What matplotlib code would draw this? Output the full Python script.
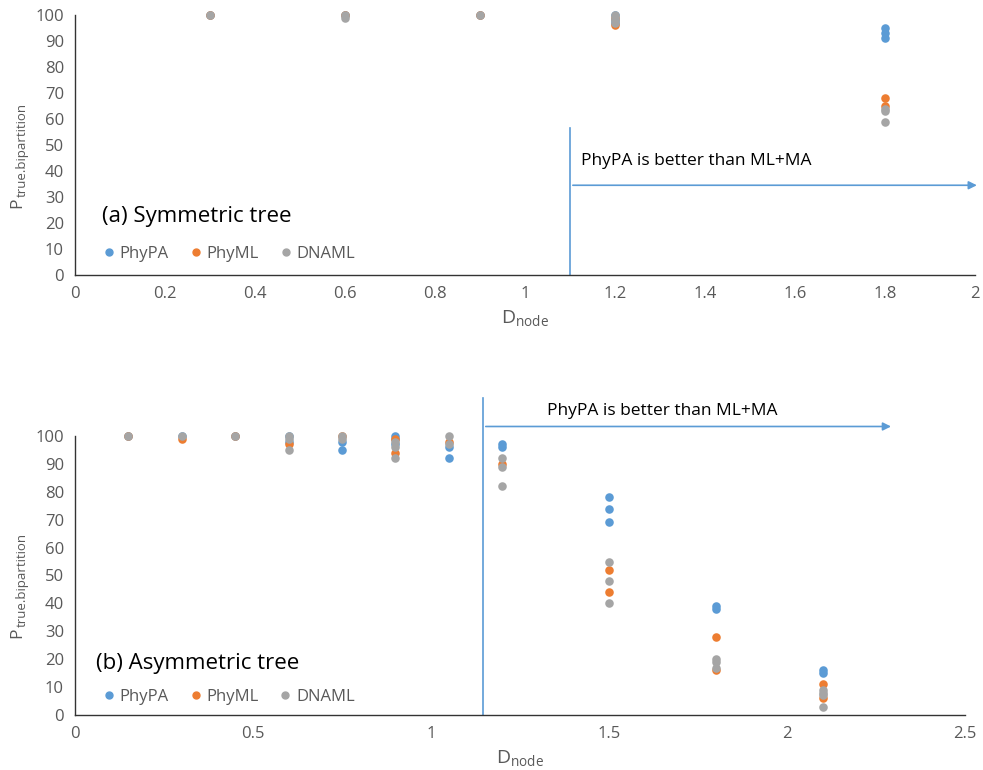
import matplotlib.pyplot as plt
from matplotlib.lines import Line2D

plt.rcParams['font.family'] = ['Open Sans', 'DejaVu Sans']

BLUE = "#5B9BD5"
ORANGE = "#ED7D31"
GRAY = "#A5A5A5"
TXT = "#595959"

# (a) symmetric tree
a_phypa_x = [0.3, 0.6, 0.9, 1.2, 1.2, 1.2, 1.8, 1.8, 1.8]
a_phypa_y = [100, 100, 100, 100, 98, 97, 95, 93, 91]
a_phyml_x = [0.3, 0.6, 0.9, 1.2, 1.2, 1.8, 1.8]
a_phyml_y = [100, 100, 100, 99, 96, 68, 65]
a_dnaml_x = [0.3, 0.6, 0.6, 0.9, 1.2, 1.2, 1.2, 1.2, 1.8, 1.8, 1.8]
a_dnaml_y = [100, 100, 99, 100, 100, 99, 98, 97, 64, 63, 59]

# (b) asymmetric tree
b_phypa_x = [0.15, 0.3, 0.45, 0.6, 0.6, 0.75, 0.75, 0.9, 0.9, 0.9, 1.05, 1.05,
             1.2, 1.2, 1.5, 1.5, 1.5, 1.8, 1.8, 2.1, 2.1]
b_phypa_y = [100, 100, 100, 100, 98, 98, 95, 100, 99, 97, 96, 92,
             97, 96, 78, 74, 69, 39, 38, 16, 15]
b_phyml_x = [0.15, 0.3, 0.45, 0.6, 0.75, 0.9, 0.9, 1.05, 1.2, 1.5, 1.5, 1.8, 1.8, 2.1, 2.1]
b_phyml_y = [100, 99, 100, 97, 100, 99, 94, 98, 90, 52, 44, 28, 16, 11, 6]
b_dnaml_x = [0.15, 0.3, 0.45, 0.6, 0.6, 0.6, 0.75, 0.75, 0.9, 0.9, 0.9, 1.05, 1.05,
             1.2, 1.2, 1.2, 1.5, 1.5, 1.5, 1.8, 1.8, 1.8, 2.1, 2.1, 2.1, 2.1]
b_dnaml_y = [100, 100, 100, 100, 99, 95, 100, 99, 98, 96, 92, 100, 97,
             92, 89, 82, 55, 48, 40, 20, 19, 17, 9, 8, 7, 3]

fig = plt.figure(figsize=(9.83, 7.7), dpi=100)
ax1 = fig.add_axes([0.0763, 0.6429, 0.9157, 0.3377])
ax2 = fig.add_axes([0.0763, 0.0714, 0.9054, 0.3624])


def style(ax, xmax, xticks, xlabels, ylab_bottom):
    ax.set_xlim(0, xmax)
    ax.set_ylim(0, 100)
    ax.set_xticks(xticks)
    ax.set_xticklabels(xlabels)
    ax.set_yticks(range(0, 101, 10))
    for s in ["top", "right"]:
        ax.spines[s].set_visible(False)
    for s in ["left", "bottom"]:
        ax.spines[s].set_color("#333333")
        ax.spines[s].set_linewidth(1.0)
    ax.tick_params(length=0, labelsize=12, labelcolor=TXT, pad=8)
    ax.set_xlabel(r"$\mathregular{D_{node}}$", fontsize=14, color=TXT, labelpad=4)
    # y label: P with a hand-placed subscript
    p = fig.text(17 / 983, ylab_bottom, "P", rotation=90, ha="center", va="bottom",
                 fontsize=12.5, color=TXT)
    ax.annotate("true.bipartition", xy=(1.0, 1.0), xycoords=p, xytext=(2.5, 0.5),
                textcoords="offset points", rotation=90, ha="right", va="bottom",
                fontsize=9.5, color=TXT, annotation_clip=False)


def points(ax, px, py, mx, my, dx, dy):
    ax.scatter(px, py, s=38, color=BLUE, zorder=3, clip_on=False, linewidths=0)
    ax.scatter(mx, my, s=38, color=ORANGE, zorder=4, clip_on=False, linewidths=0)
    ax.scatter(dx, dy, s=38, color=GRAY, zorder=5, clip_on=False, linewidths=0)


def legend(ax, title, tx, ty, ly):
    ax.text(tx, ty, title, transform=ax.transAxes, fontsize=16, color="black",
            va="center", ha="left")
    handles = [Line2D([], [], marker="o", ls="", color=c, markersize=5)
               for c in (BLUE, ORANGE, GRAY)]
    leg = ax.legend(handles, ["PhyPA", "PhyML", "DNAML"], ncol=3, frameon=False,
                    loc="center left", bbox_to_anchor=(0.01, ly), fontsize=12,
                    handletextpad=0.05, columnspacing=1.0, handlelength=1.2)
    for t in leg.get_texts():
        t.set_color(TXT)


style(ax1, 2, [0, 0.2, 0.4, 0.6, 0.8, 1, 1.2, 1.4, 1.6, 1.8, 2],
      ["0", "0.2", "0.4", "0.6", "0.8", "1", "1.2", "1.4", "1.6", "1.8", "2"],
      1 - 208 / 770)
points(ax1, a_phypa_x, a_phypa_y, a_phyml_x, a_phyml_y, a_dnaml_x, a_dnaml_y)
legend(ax1, "(a) Symmetric tree", 0.03, 0.225, 0.08)
ax1.plot([1.1, 1.1], [0, 56.5], color=BLUE, lw=1.2, clip_on=False)
ax1.annotate("", xy=(2.01, 34.5), xytext=(1.1, 34.5),
             arrowprops=dict(arrowstyle="-|>", color=BLUE, lw=1.2, mutation_scale=12),
             annotation_clip=False)
ax1.text(1.125, 44, "PhyPA is better than ML+MA", fontsize=12.5, color="black", va="center")

style(ax2, 2.5, [0, 0.5, 1, 1.5, 2, 2.5], ["0", "0.5", "1", "1.5", "2", "2.5"],
      1 - 638 / 770)
points(ax2, b_phypa_x, b_phypa_y, b_phyml_x, b_phyml_y, b_dnaml_x, b_dnaml_y)
legend(ax2, "(b) Asymmetric tree", 0.024, 0.185, 0.065)
ax2.plot([1.146, 1.146], [0, 113.6], color=BLUE, lw=1.2, clip_on=False)
ax2.annotate("", xy=(2.3, 103.4), xytext=(1.146, 103.4),
             arrowprops=dict(arrowstyle="-|>", color=BLUE, lw=1.2, mutation_scale=12),
             annotation_clip=False)
ax2.text(1.325, 109, "PhyPA is better than ML+MA", fontsize=12.5, color="black", va="center")

fig.savefig("out.png", dpi=100)
